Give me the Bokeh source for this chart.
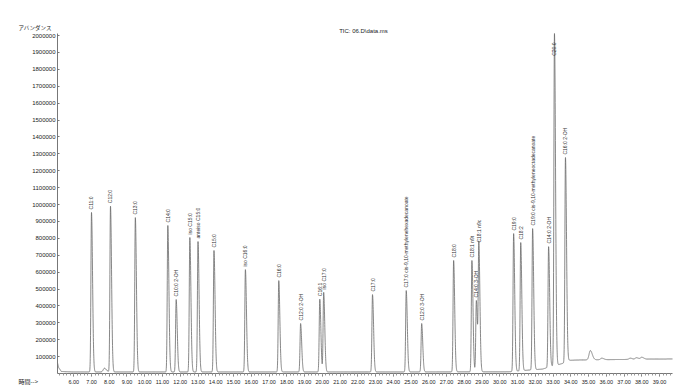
import numpy as np
from bokeh.plotting import figure
from bokeh.models import FixedTicker, PrintfTickFormatter, NumeralTickFormatter, Range1d, Label, ColumnDataSource
from bokeh.embed import file_html
from bokeh.resources import INLINE
from bokeh.core.properties import value

# ---- data ----
peak_labels = [
    "C11:0", "C12:0", "C13:0", "C14:0", "C10:0 2-OH", "iso C15:0", "anteiso C15:0",
    "C15:0", "iso C16:0", "C16:0", "C12:0 2-OH", "C16:1", "iso C17:0", "C17:0",
    "C17:0 cis-9,10-methylenehexadecanoate", "C12:0 3-OH", "C18:0", "C18:1 n9t",
    "C14:0 3-OH", "C18:1 n9c", "C19:0", "C18:2",
    "C19:0 cis-9,10-methyleneoctadecanoate", "C14:0 2-OH", "C20:0", "C16:0 2-OH",
]
peak_times = [
    7.00, 8.07, 9.47, 11.30, 11.77, 12.54, 13.00,
    13.90, 15.67, 17.55, 18.78, 19.86, 20.08, 22.83,
    24.73, 25.60, 27.40, 28.43,
    28.68, 28.82, 30.78, 31.18,
    31.85, 32.75, 33.08, 33.70,
]
peak_heights = [
    953000, 990000, 923000, 876000, 438000, 805000, 781000,
    728000, 615000, 550000, 296000, 440000, 480000, 467000,
    491000, 296000, 669000, 669000,
    432000, 757000, 828000, 775000,
    858000, 751000, 2012000, 1278000,
]
# unlabelled small features (time, height above baseline)
minor_times = [7.73, 35.10, 35.75, 37.35, 37.70, 38.00]
minor_heights = [22000, 55000, 9000, 7000, 9000, 11000]
# baseline (time, abundance)
baseline_times = [5.08, 5.15, 5.30, 6.00, 20.0, 30.5, 31.0, 31.6, 32.4, 32.9,
                  33.3, 33.6, 33.9, 34.5, 36.0, 37.0, 38.0, 39.73]
baseline_values = [65000, 35000, 12000, 9000, 9000, 10000, 14000, 20000, 26000, 42000,
                   52000, 62000, 78000, 80000, 82000, 83000, 85000, 86000]

x_ticks = list(range(6, 40))
y_ticks = list(range(100000, 2000001, 100000))

# axis extents (time in min, abundance)
t_first, t_last = 5.085, 39.73
a_bottom, a_top = 0, 2012000

# ---- geometry: frame covers whole canvas, axes are placed at fixed locations ----
W, H = 689, 392
ax_left_px, ax_right_px = 57, 672      # axis x-extent inside canvas
ax_top_px, ax_bottom_px = 33, 373      # axis y-extent inside canvas (from top)
xs = (t_last - t_first) / (ax_right_px - ax_left_px)
ys = (a_top - a_bottom) / (ax_bottom_px - ax_top_px)
x_range = Range1d(t_first - ax_left_px * xs, t_last + (W - ax_right_px) * xs)
y_range = Range1d(a_bottom - (H - ax_bottom_px) * ys, a_top + ax_top_px * ys)

# ---- build trace from the peak table ----
t = np.arange(t_first, t_last, 0.004)
base = np.interp(t, baseline_times, baseline_values)
signal = base.copy()
sl, sr = 0.032, 0.06
for t0, h in zip(peak_times, peak_heights):
    amp = h - np.interp(t0, baseline_times, baseline_values)
    s = np.where(t < t0, sl, sr)
    signal += amp * np.exp(-0.5 * ((t - t0) / s) ** 2)
for t0, h in zip(minor_times, minor_heights):
    s = np.where(t < t0, 0.07, 0.11)
    signal += h * np.exp(-0.5 * ((t - t0) / s) ** 2)
signal = np.minimum(signal, a_top)

p = figure(width=W, height=H, output_backend="svg", toolbar_location=None,
           x_range=x_range, y_range=y_range,
           min_border_left=0, min_border_right=0, min_border_top=0, min_border_bottom=0)
p.outline_line_color = None
p.grid.visible = False
p.background_fill_color = "white"

p.line(t, signal, line_color="#6a6a6a", line_width=0.8)

# peak labels
inside = [i for i, h in enumerate(peak_heights) if h < a_top]
at_top = [i for i, h in enumerate(peak_heights) if h >= a_top]
src_in = ColumnDataSource(dict(x=[peak_times[i] for i in inside],
                               y=[peak_heights[i] for i in inside],
                               text=[peak_labels[i] for i in inside]))
p.text(x="x", y="y", text="text", source=src_in, angle=np.pi / 2, text_align="left",
       text_baseline="middle", y_offset=-3, text_font_size="5px",
       text_font=value("Liberation Sans"), text_color="#333333")
src_top = ColumnDataSource(dict(x=[peak_times[i] for i in at_top],
                                y=[a_top for i in at_top],
                                text=[peak_labels[i] for i in at_top]))
p.text(x="x", y="y", text="text", source=src_top, angle=np.pi / 2, text_align="right",
       text_baseline="middle", y_offset=9, text_font_size="5px",
       text_font=value("Liberation Sans"), text_color="#333333")

# axes
xa = p.xaxis[0]
xa.fixed_location = a_bottom
xa.bounds = (t_first, t_last)
xa.ticker = FixedTicker(ticks=x_ticks, minor_ticks=list(np.round(np.arange(5.2, 39.7, 0.2), 2)))
xa.formatter = PrintfTickFormatter(format="%.2f")
xa.major_label_text_font_size = "5.5px"
xa.major_label_text_font = "Liberation Sans"
xa.major_label_text_color = "#222222"
xa.major_label_standoff = 3
xa.major_tick_in = 0
xa.major_tick_out = 3
xa.minor_tick_in = 0
xa.minor_tick_out = 2
xa.axis_line_color = "#777777"
xa.major_tick_line_color = "#777777"
xa.minor_tick_line_color = "#999999"

ya = p.yaxis[0]
ya.fixed_location = t_first
ya.bounds = (a_bottom, a_top)
ya.ticker = FixedTicker(ticks=y_ticks, minor_ticks=[])
ya.formatter = NumeralTickFormatter(format="0")
ya.major_label_text_font_size = "6px"
ya.major_label_text_font = "Liberation Sans"
ya.major_label_text_color = "#222222"
ya.major_label_standoff = 2
ya.major_tick_in = 2
ya.major_tick_out = 0
ya.axis_line_color = "#777777"
ya.major_tick_line_color = "#777777"

p.add_layout(Label(x=363, y=H - 30, x_units="screen", y_units="screen", text="TIC: 06.D\\data.ms",
                   text_align="center", text_baseline="middle", text_font_size="6px",
                   text_font="Liberation Sans", text_color="#222222"))
p.add_layout(Label(x=18, y=H - 27, x_units="screen", y_units="screen", text="アバンダンス",
                   text_align="left", text_baseline="middle", text_font_size="5.5px",
                   text_font="Noto Sans CJK JP", text_color="#222222"))
p.add_layout(Label(x=18, y=H - 381, x_units="screen", y_units="screen", text="時間-->",
                   text_align="left", text_baseline="middle", text_font_size="6px",
                   text_font="Noto Sans CJK JP", text_color="#222222"))

open("out.html", "w").write(file_html(p, INLINE))
